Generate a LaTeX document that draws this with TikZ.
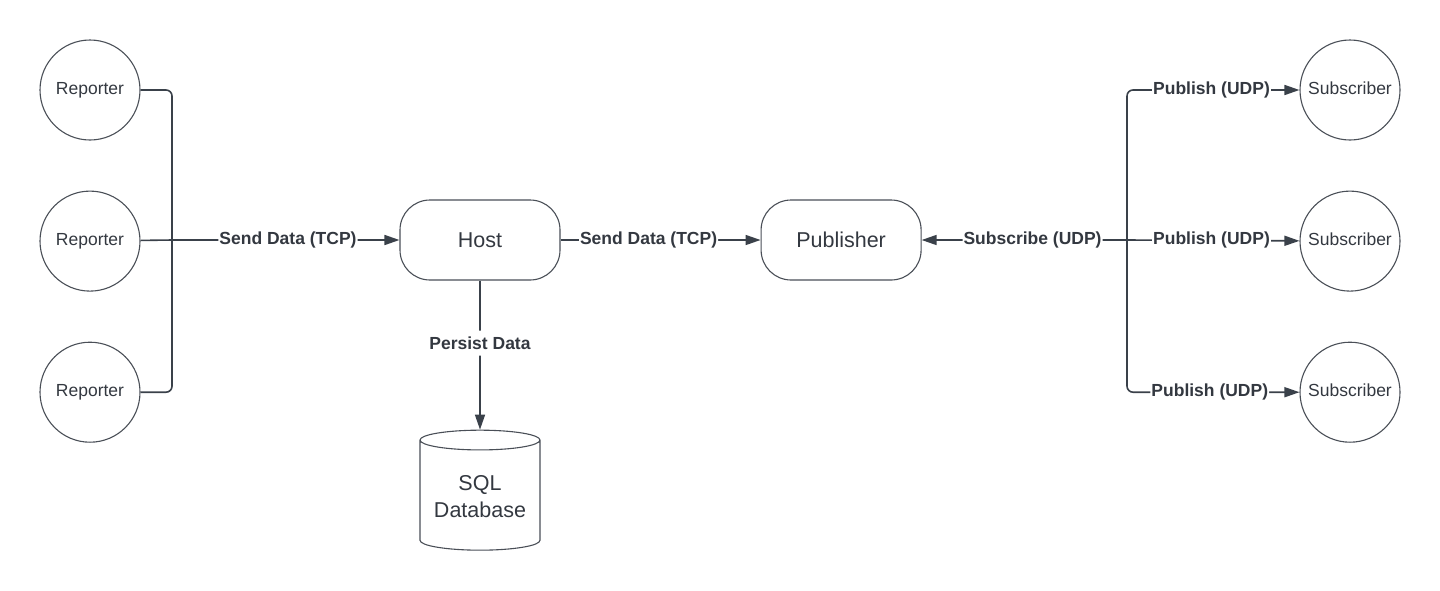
\documentclass[tikz,border=0pt]{standalone}
\usepackage{fontspec}
\setmainfont{Liberation Sans}
\usetikzlibrary{shapes.geometric, arrows.meta, positioning}
\definecolor{linegray}{HTML}{3A414A}
\definecolor{rimgray}{HTML}{4A4F57}
\definecolor{inkgray}{HTML}{333840}
\tikzstyle{client} = [circle, minimum size=100pt, inner sep=0pt, text height=12.5pt, text depth=4pt, draw=rimgray, line width=1.1pt, text=inkgray, font=\fontsize{17.5}{21}\selectfont]
\tikzstyle{server} = [rectangle, rounded corners=30pt, minimum width=160pt, minimum height=80pt, draw=rimgray, line width=1.1pt, text=inkgray, font=\fontsize{21.5}{26}\selectfont]
\tikzstyle{store} = [cylinder, shape border rotate=90, aspect=0.2, minimum width=120pt, minimum height=120pt, draw=rimgray, line width=1.1pt, text=inkgray, align=center, font=\fontsize{21.5}{27}\selectfont]
\tikzstyle{tag} = [fill=white, inner xsep=1pt, inner ysep=6pt, text=inkgray, font=\bfseries\fontsize{17.5}{20}\selectfont]
\tikzstyle{wire} = [line width=1.6pt, draw=linegray, rounded corners=6pt]
\tikzstyle{arrow} = [wire, -{Triangle[length=15pt,width=10pt]}]

\begin{document}
\begin{tikzpicture}[x=1pt, y=-1pt, node distance=50pt]
\useasboundingbox (0,0) rectangle (1440,590);

\node (rep1) [client] at (90,90) {Reporter};
\node (rep2) [client, below=of rep1] {Reporter};
\node (rep3) [client, below=of rep2] {Reporter};

\node (host) [server] at (480,240) {Host};
\node (pub) [server, right=200pt of host] {Publisher};
\node (db) [store] at (480,497) {SQL\\Database};

\node (sub1) [client] at (1350,90) {Subscriber};
\node (sub2) [client, below=of sub1] {Subscriber};
\node (sub3) [client, below=of sub2] {Subscriber};

\coordinate (hub) at (172,240);
\coordinate (fan) at (1127,240);

\draw [wire] (rep1.east) -| (hub) |- (rep3.east);
\draw [wire] (rep2) -- (hub);
\draw [arrow] (hub) -- node[tag, pos=0.51] {Send Data (TCP)} (host);
\draw [arrow] (host) -- node[tag, pos=0.44] {Send Data (TCP)} (pub);
\draw [arrow] (host) -- node[tag, pos=0.42] {Persist Data} (db.top);

\draw [arrow] (fan) -- node[tag, pos=0.46] {Subscribe (UDP)} (pub);
\draw [arrow] (fan) |- node[tag, pos=0.745] {Publish (UDP)} (sub1);
\draw [arrow] (fan) -- node[tag, pos=0.49] {Publish (UDP)} (sub2);
\draw [arrow] (fan) |- node[tag, pos=0.74] {Publish (UDP)} (sub3);
\end{tikzpicture}
\end{document}
